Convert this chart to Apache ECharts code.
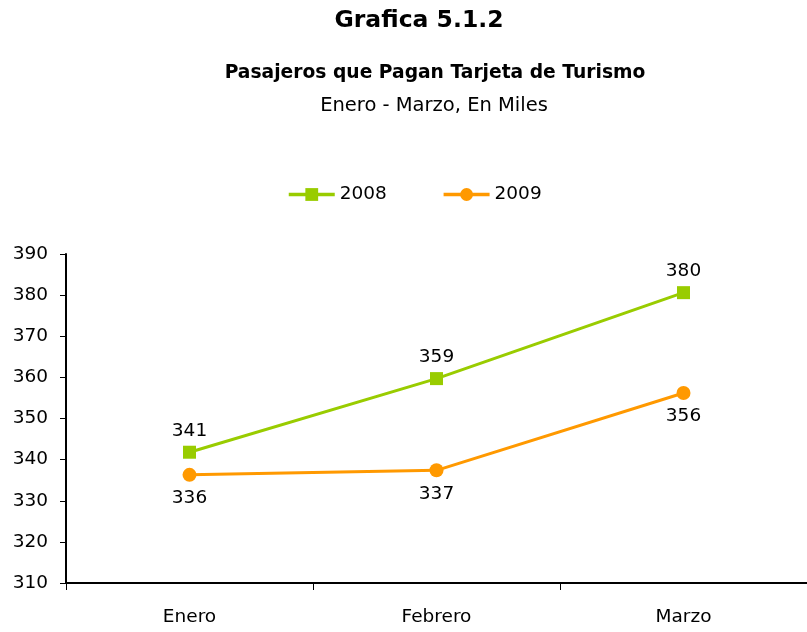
<!DOCTYPE html>
<html>
<head>
<meta charset="utf-8">
<script src="https://cdn.jsdelivr.net/npm/echarts@6/dist/echarts.min.js"></script>
<style>
  html, body { margin: 0; padding: 0; background: #fff; }
  #chart { width: 807px; height: 632px; }
</style>
</head>
<body>
<div id="chart"></div>
<script>
// Datos (miles de pasajeros)
const meses = ['Enero', 'Febrero', 'Marzo'];
const valores2008 = [341.8, 359.7, 380.6];
const valores2009 = [336.3, 337.4, 356.2];
const nombresSeries = ['2008', '2009'];

const fuente = 'DejaVu Sans';
const etiqueta = p => Math.floor(p.value);

const chart = echarts.init(document.getElementById('chart'));
chart.setOption({
    animation: false,
    textStyle: { fontFamily: fuente, color: '#000' },
    title: [
        {
            text: 'Grafica 5.1.2',
            left: 414, top: 4, textAlign: 'center',
            textStyle: { fontSize: 23.5, fontWeight: 'bold', color: '#000', fontFamily: fuente }
        },
        {
            text: 'Pasajeros que Pagan Tarjeta de Turismo',
            left: 430, top: 59, textAlign: 'center',
            textStyle: { fontSize: 18.7, fontWeight: 'bold', color: '#000', fontFamily: fuente }
        },
        {
            text: 'Enero - Marzo, En Miles',
            left: 429, top: 91, textAlign: 'center',
            textStyle: { fontSize: 19.5, fontWeight: 'normal', color: '#000', fontFamily: fuente }
        }
    ],
    legend: {
        top: 180,
        left: 282,
        itemWidth: 46,
        itemHeight: 16,
        itemGap: 55,
        lineStyle: { width: 3.5 },
        textStyle: { fontSize: 18.5, color: '#000', fontFamily: fuente },
        data: nombresSeries
    },
    grid: { left: 66, top: 254, width: 750, height: 329 },
    xAxis: {
        type: 'category',
        data: meses,
        boundaryGap: true,
        axisLine: { lineStyle: { color: '#000', width: 2 } },
        axisTick: { show: true, length: 7, lineStyle: { color: '#000' } },
        axisLabel: { margin: 25, fontSize: 18.5, color: '#000', fontFamily: fuente }
    },
    yAxis: {
        type: 'value',
        min: 310,
        max: 390,
        interval: 10,
        splitLine: { show: false },
        axisLine: { show: true, lineStyle: { color: '#000', width: 2 } },
        axisTick: { show: true, length: 6, lineStyle: { color: '#000' } },
        axisLabel: { margin: 18, fontSize: 18.5, color: '#000', fontFamily: fuente }
    },
    series: [
        {
            name: nombresSeries[0],
            type: 'line',
            data: valores2008,
            symbol: 'rect',
            symbolSize: 13,
            lineStyle: { color: '#99CC00', width: 3 },
            itemStyle: { color: '#99CC00' },
            label: { show: true, position: 'top', distance: 5, formatter: etiqueta, fontSize: 18.5, color: '#000', fontFamily: fuente }
        },
        {
            name: nombresSeries[1],
            type: 'line',
            data: valores2009,
            symbol: 'circle',
            symbolSize: 14,
            lineStyle: { color: '#FF9900', width: 3 },
            itemStyle: { color: '#FF9900' },
            label: { show: true, position: 'bottom', distance: 7, formatter: etiqueta, fontSize: 18.5, color: '#000', fontFamily: fuente }
        }
    ]
});
</script>
</body>
</html>
